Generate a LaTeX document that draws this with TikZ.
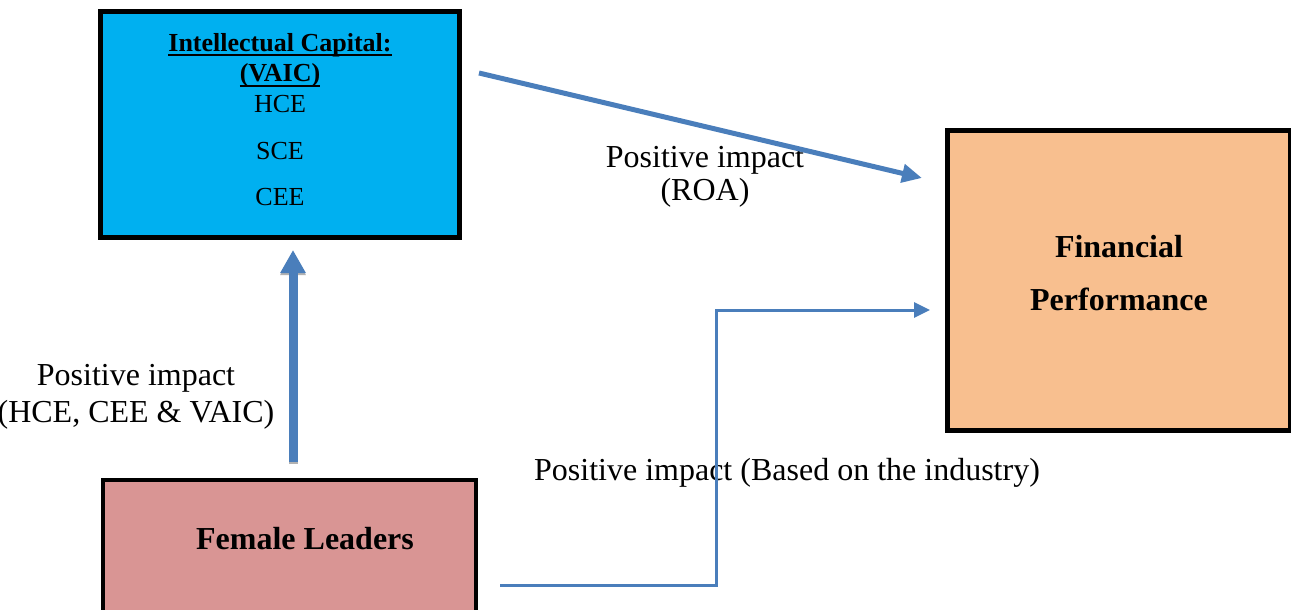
\documentclass[tikz,border=0pt]{standalone}
\usepackage{fontspec}
\setmainfont{Liberation Serif}
\usetikzlibrary{arrows.meta,positioning}

\definecolor{icblue}{HTML}{00B0F0}
\definecolor{fporange}{HTML}{F8BF8F}
\definecolor{flred}{HTML}{D99594}
\definecolor{arrowblue}{HTML}{4A7EBB}

% underline just below the baseline
\newcommand{\icul}[1]{\setbox0\hbox{#1}\vtop{\copy0\kern-\dp0\kern1.5pt\hrule height 0.9pt}}

\begin{document}
\begin{tikzpicture}[x=0.5pt, y=-0.5pt,
    box/.style={rectangle, draw, line width=2.5pt, align=center, inner sep=0pt},
    lbl/.style={align=center, anchor=base, font=\fontsize{16}{18}\selectfont},
    arr/.style={draw=arrowblue, line width=2.5pt, -{Triangle[length=10pt,width=9pt]}}
]
\useasboundingbox (0,0) rectangle (1291,610);

% boxes
\node[box, fill=icblue, minimum width=179.5pt, minimum height=113pt, text depth=5pt, font=\fontsize{13}{15.3}\selectfont] (ic) at (280,124.5)
    {\icul{\textbf{Intellectual Capital:}}\\ \icul{\textbf{(VAIC)}}\\ HCE\\[8pt] SCE\\[8pt] CEE};
\node[box, fill=fporange, minimum width=171.5pt, minimum height=150pt, text depth=8pt, font=\bfseries\fontsize{16}{26.5}\selectfont] (fp) at (1119,280.5)
    {Financial\\ Performance};
\node[box, line width=2pt, fill=flred, minimum width=186.5pt, minimum height=89pt] (fl) at (289.5,569) {};
\node[anchor=base, font=\bfseries\fontsize{16}{19}\selectfont] (fltxt) at (305,549) {Female Leaders};

% labels (base = last line)
\node[lbl, font=\fontsize{16}{16.5}\selectfont] (roa) at (705,200) {Positive impact\\ (ROA)};
\node[lbl, font=\fontsize{16}{18.5}\selectfont] (hce) at (136,422) {Positive impact\\ (HCE, CEE \& VAIC)};
\node[lbl] (ind) at (787,480) {Positive impact (Based on the industry)};

% connectors
\coordinate (icout) at (479,73);
\coordinate (fpin) at (922,178);
\coordinate (flup) at (293,462);
\coordinate (icin) at (293,250);
\coordinate (flout) at (500,585);
\coordinate (fpin2) at (930,310);

\draw[arr] (icout) -- (fpin);
\draw[draw=gray!60, line width=4.5pt, -{Triangle[length=11.5pt,width=12pt]}] ([yshift=-1pt]flup) -- ([yshift=-1pt]icin);
\draw[arr, line width=4.5pt, -{Triangle[length=11.5pt,width=12pt]}] (flup) -- (icin);
\draw[arr, line width=1.5pt, -{Triangle[length=8pt,width=7.5pt]}] (flout) -- ++(216,0) |- (fpin2);
\end{tikzpicture}
\end{document}
